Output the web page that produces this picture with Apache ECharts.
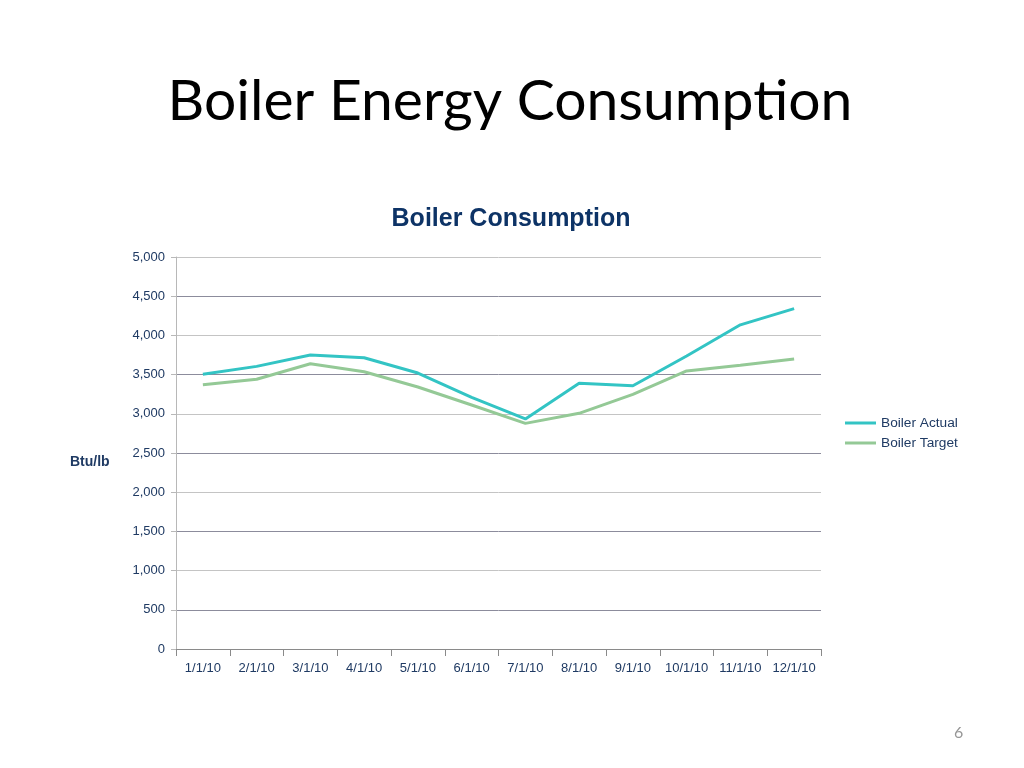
<!DOCTYPE html>
<html>
<head>
<meta charset="utf-8">
<script src="https://cdn.jsdelivr.net/npm/echarts@6/dist/echarts.min.js"></script>
<style>
html,body{margin:0;padding:0;background:#fff;}
#c{width:1024px;height:768px;}
</style>
</head>
<body>
<div id="c"></div>
<script>
const categories = ['1/1/10','2/1/10','3/1/10','4/1/10','5/1/10','6/1/10','7/1/10','8/1/10','9/1/10','10/1/10','11/1/10','12/1/10'];
const boilerActual = [3505, 3605, 3750, 3715, 3520, 3210, 2935, 3390, 3358, 3738, 4135, 4342];
const boilerTarget = [3372, 3440, 3638, 3537, 3342, 3112, 2878, 3006, 3248, 3546, 3619, 3699];
const yTicks = {min: 0, max: 5000, interval: 500};

const chart = echarts.init(document.getElementById('c'));
const navy = '#1f3a63';
chart.setOption({
  backgroundColor: '#ffffff',
  animation: false,
  title: [
    {text: 'Boiler Energy Consumption', left: 510, textAlign: 'center', top: 73, padding: 0,
     textStyle: {fontFamily: 'Lato', fontWeight: 'normal', fontSize: 57, lineHeight: 57, color: '#000'}},
    {text: 'Boiler Consumption', left: 511, textAlign: 'center', top: 207, padding: 0,
     textStyle: {fontFamily: 'Liberation Sans', fontWeight: 'bold', fontSize: 25, lineHeight: 25, color: '#0d3366'}},
    {text: 'Btu/lb', left: 70, top: 455, padding: 0,
     textStyle: {fontFamily: 'Liberation Sans', fontWeight: 'bold', fontSize: 14, lineHeight: 14, color: navy}},
    {text: '6', left: 954, top: 725, padding: 0,
     textStyle: {fontFamily: 'Lato', fontWeight: 'normal', fontSize: 16, lineHeight: 16, color: '#969696'}}
  ],
  legend: {
    orient: 'vertical', left: 845, top: 416, itemGap: 6, padding: 0,
    itemWidth: 31, itemHeight: 3, icon: 'rect',
    textStyle: {fontFamily: 'Liberation Sans', fontSize: 13.7, lineHeight: 14, color: navy},
    data: ['Boiler Actual', 'Boiler Target']
  },
  grid: {left: 176, right: 203, top: 257, bottom: 119, containLabel: false},
  xAxis: {
    type: 'category', data: categories, boundaryGap: true,
    axisLine: {lineStyle: {color: '#8a8a8a', width: 1}},
    axisTick: {show: true, length: 7, lineStyle: {color: '#8a8a8a'}},
    axisLabel: {fontFamily: 'Liberation Sans', fontSize: 13, color: navy, margin: 13, interval: 0}
  },
  yAxis: {
    type: 'value', min: yTicks.min, max: yTicks.max, interval: yTicks.interval,
    axisLine: {show: true, lineStyle: {color: '#b8b8b8'}},
    axisTick: {show: true, length: 5, lineStyle: {color: '#b8b8b8'}},
    axisLabel: {fontFamily: 'Liberation Sans', fontSize: 13, color: navy, margin: 11,
      padding: [3, 0, 0, 0],
      formatter: v => v.toLocaleString('en-US')},
    splitLine: {show: true, lineStyle: {color: ['#c4c4c4', '#8c8c9c'], width: 1}}
  },
  series: [
    {name: 'Boiler Actual', type: 'line', data: boilerActual, symbol: 'none',
     lineStyle: {color: '#33c4c4', width: 3}, itemStyle: {color: '#33c4c4'}},
    {name: 'Boiler Target', type: 'line', data: boilerTarget, symbol: 'none',
     lineStyle: {color: '#94c996', width: 3}, itemStyle: {color: '#94c996'}}
  ]
});
</script>
</body>
</html>
